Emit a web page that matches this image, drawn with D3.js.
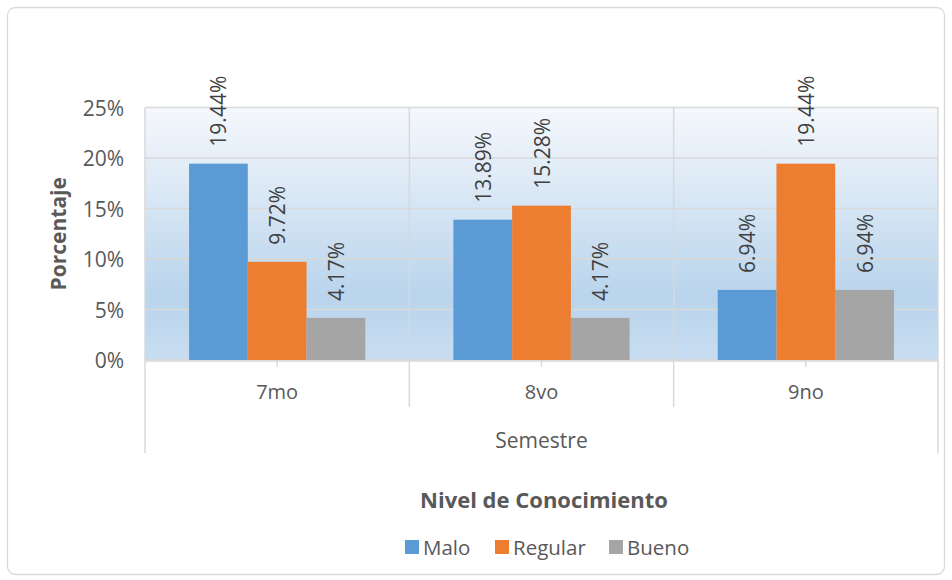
<!DOCTYPE html>
<html><head><meta charset="utf-8">
<script src="https://cdn.jsdelivr.net/npm/d3@7"></script>
<style>
html,body{margin:0;padding:0;background:#fff;}
svg{display:block;font-family:"Open Sans",sans-serif;}
</style></head>
<body>
<svg id="chart" width="952" height="580"></svg>
<script>
const categories = ["7mo", "8vo", "9no"];
const seriesNames = ["Malo", "Regular", "Bueno"];
const malo = [19.44, 13.89, 6.94];
const regular = [9.72, 15.28, 19.44];
const bueno = [4.17, 4.17, 6.94];
const yTicks = [0, 5, 10, 15, 20, 25];
const colors = ["#5b9bd5", "#ed7d31", "#a5a5a5"];
const seriesValues = [malo, regular, bueno];

const svg = d3.select("#chart");
const textColor = "#595959";
const gridColor = "#d9d9d9";

// outer border
svg.append("rect").attr("x", 7.5).attr("y", 7.5).attr("width", 937).attr("height", 567)
  .attr("rx", 8).attr("fill", "#fff").attr("stroke", gridColor).attr("stroke-width", 1.3);

const L = 145, R = 938, T = 107.5, B = 360;
const x0 = d3.scaleBand().domain(categories).range([L, R]).paddingInner(0).paddingOuter(0);
const bw = x0.bandwidth();
const groupW = bw / (3 + 1.5) * 3;
const x1 = d3.scaleBand().domain(seriesNames).range([0, groupW]).padding(0);
const y = d3.scaleLinear().domain([0, 25]).range([B, T]);

// gradient
const defs = svg.append("defs");
const grad = defs.append("linearGradient").attr("id", "bg").attr("x1", 0).attr("y1", 0).attr("x2", 0).attr("y2", 1);
grad.append("stop").attr("offset", "0%").attr("stop-color", "#f5f8fc");
grad.append("stop").attr("offset", "75%").attr("stop-color", "#b9d4ec");
grad.append("stop").attr("offset", "100%").attr("stop-color", "#c8ddf1");
svg.append("rect").attr("x", L).attr("y", T).attr("width", R - L).attr("height", B - T).attr("fill", "url(#bg)");

// horizontal gridlines
svg.append("g").selectAll("line").data(yTicks).join("line")
  .attr("x1", L).attr("x2", R).attr("y1", d => y(d)).attr("y2", d => y(d))
  .attr("stroke", gridColor).attr("stroke-width", 1.5);

// vertical category lines in plot
const bounds = categories.map(c => x0(c)).concat([R]);
svg.append("g").selectAll("line").data(bounds).join("line")
  .attr("x1", d => d).attr("x2", d => d).attr("y1", T).attr("y2", B)
  .attr("stroke", gridColor).attr("stroke-width", 1.5);

// bars
const groups = svg.append("g").selectAll("g").data(categories).join("g")
  .attr("transform", c => `translate(${x0(c) + (bw - groupW) / 2},0)`);
groups.each(function(c, ci) {
  const g = d3.select(this);
  seriesNames.forEach((s, si) => {
    const v = seriesValues[si][ci];
    g.append("rect").attr("x", x1(s)).attr("y", y(v)).attr("width", x1.bandwidth())
      .attr("height", B - y(v)).attr("fill", colors[si]);
    const cx = x1(s) + x1.bandwidth() / 2;
    const ty = y(v) - 17;
    g.append("text").attr("transform", `translate(${cx + 8},${ty}) rotate(-90)`)
      .attr("fill", "#404040").attr("font-size", 21).attr("text-anchor", "start")
      .text(v.toFixed(2) + "%");
  });
});

// x axis line and ticks
svg.append("line").attr("x1", L).attr("x2", R).attr("y1", B + 1).attr("y2", B + 1)
  .attr("stroke", gridColor).attr("stroke-width", 1.5);
svg.append("g").selectAll("line").data(categories).join("line")
  .attr("x1", c => x0(c) + bw / 2).attr("x2", c => x0(c) + bw / 2).attr("y1", B).attr("y2", B + 7)
  .attr("stroke", gridColor).attr("stroke-width", 1.5);
svg.append("g").selectAll("line").data(bounds).join("line")
  .attr("x1", d => d).attr("x2", d => d).attr("y1", B).attr("y2", (d, i) => (i === 0 || i === bounds.length - 1) ? 453 : 407)
  .attr("stroke", gridColor).attr("stroke-width", 1.5);

// category labels
svg.append("g").selectAll("text").data(categories).join("text")
  .attr("x", c => x0(c) + bw / 2).attr("y", 399).attr("text-anchor", "middle")
  .attr("fill", textColor).attr("font-size", 20).text(c => c);
svg.append("text").attr("x", (L + R) / 2).attr("y", 448).attr("text-anchor", "middle")
  .attr("fill", textColor).attr("font-size", 21).text("Semestre");

// y axis labels
svg.append("g").selectAll("text").data(yTicks).join("text")
  .attr("x", 124).attr("y", d => y(d) + 8).attr("text-anchor", "end")
  .attr("fill", textColor).attr("font-size", 21).text(d => d + "%");
svg.append("text").attr("transform", `translate(66,${(T + B) / 2}) rotate(-90)`)
  .attr("text-anchor", "middle").attr("fill", textColor).attr("font-size", 21)
  .attr("font-weight", "bold").text("Porcentaje");

// legend title
svg.append("text").attr("x", 544).attr("y", 508).attr("text-anchor", "middle")
  .attr("fill", textColor).attr("font-size", 22).attr("font-weight", "bold").text("Nivel de Conocimiento");

// legend
const legendX = [405, 495, 609];
const lg = svg.append("g").selectAll("g").data(seriesNames).join("g")
  .attr("transform", (d, i) => `translate(${legendX[i]},540)`);
lg.append("rect").attr("width", 14).attr("height", 14).attr("fill", (d, i) => colors[i]);
lg.append("text").attr("x", 18).attr("y", 15).attr("fill", textColor).attr("font-size", 20.5).text(d => d);
</script>
</body></html>
